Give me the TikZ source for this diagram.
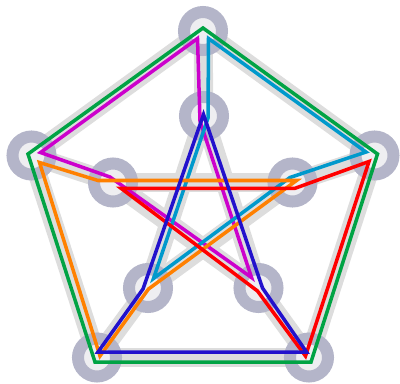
\documentclass[tikz,border=0pt]{standalone}
\usepackage{xcolor}
\usepackage{tikz}

\definecolor{ringblue}{RGB}{180,181,201}
\definecolor{ringfill}{RGB}{238,238,241}
\definecolor{edgegray}{RGB}{221,221,221}
\definecolor{cycgreen}{RGB}{0,163,68}
\definecolor{cycmagenta}{RGB}{204,0,204}
\definecolor{cyccyan}{RGB}{0,153,204}
\definecolor{cycred}{RGB}{255,0,0}
\definecolor{cycorange}{RGB}{255,128,0}
\definecolor{cycblue}{RGB}{34,17,204}

\begin{document}
\begin{tikzpicture}[x=0.025cm, y=-0.025cm]
  \tikzstyle{vertex} = [circle, draw=ringblue, fill=ringfill, line width=0.3cm, minimum size=0.95cm, inner sep=0pt]
  \tikzstyle{graylink} = [draw=edgegray, line width=0.475cm]
  \tikzstyle{cover} = [line width=2.5pt, line join=miter]

  \useasboundingbox (0,0) rectangle (400,383);

  % vertex positions
  \coordinate (O0) at (203,31);
  \coordinate (O1) at (374.5,155.5);
  \coordinate (O2) at (309,357.5);
  \coordinate (O3) at (97,357.5);
  \coordinate (O4) at (31.5,155.5);
  \coordinate (I0) at (204,116);
  \coordinate (I1) at (292.5,182.5);
  \coordinate (I2) at (258.5,288);
  \coordinate (I3) at (148,288);
  \coordinate (I4) at (113,182.5);

  % graph edges
  \draw[graylink] (O0) -- (O1);
  \draw[graylink] (O1) -- (O2);
  \draw[graylink] (O2) -- (O3);
  \draw[graylink] (O3) -- (O4);
  \draw[graylink] (O4) -- (O0);
  \draw[graylink] (I0) -- (I2);
  \draw[graylink] (I2) -- (I4);
  \draw[graylink] (I4) -- (I1);
  \draw[graylink] (I1) -- (I3);
  \draw[graylink] (I3) -- (I0);
  \foreach \k in {0,...,4}
    \draw[graylink] (O\k) -- (I\k);

  \foreach \k in {0,...,4} {
    \node[vertex] (vo\k) at (O\k) {};
    \node[vertex] (vi\k) at (I\k) {};
  }

  % the six cycles
  \coordinate (gr0) at (203,28);
  \coordinate (gr1) at (377.5,154);
  \coordinate (gr2) at (311,362);
  \coordinate (gr3) at (95,362);
  \coordinate (gr4) at (28,154);
  \draw[cover, cycgreen] (gr0) -- (gr1) -- (gr2) -- (gr3) -- (gr4) -- cycle;

  \coordinate (mg0) at (197.5,38.5);
  \coordinate (mg1) at (200,121);
  \coordinate (mg2) at (251.5,277.5);
  \coordinate (mg3) at (110,177);
  \coordinate (mg4) at (40.5,152.5);
  \draw[cover, cycmagenta] (mg0) -- (mg1) -- (mg2) -- (mg3) -- (mg4) -- cycle;

  \coordinate (cy0) at (208.5,38.5);
  \coordinate (cy1) at (366,152);
  \coordinate (cy2) at (290,177.5);
  \coordinate (cy3) at (153.5,278.5);
  \coordinate (cy4) at (208,118);
  \draw[cover, cyccyan] (cy0) -- (cy1) -- (cy2) -- (cy3) -- (cy4) -- cycle;

  \coordinate (or0) at (100,356);
  \coordinate (or1) at (39.5,162.5);
  \coordinate (or2) at (98,180.5);
  \coordinate (or3) at (296.5,180.5);
  \coordinate (or4) at (148.5,289);
  \draw[cover, cycorange] (or0) -- (or1) -- (or2) -- (or3) -- (or4) -- cycle;

  \coordinate (rd0) at (369,161.5);
  \coordinate (rd1) at (305.5,356);
  \coordinate (rd2) at (257.5,291);
  \coordinate (rd3) at (121,188.3);
  \coordinate (rd4) at (295,188.3);
  \draw[cover, cycred] (rd0) -- (rd1) -- (rd2) -- (rd3) -- (rd4) -- cycle;

  \coordinate (bl0) at (306.5,352);
  \coordinate (bl1) at (98,352);
  \coordinate (bl2) at (143,289);
  \coordinate (bl3) at (203.5,114.5);
  \coordinate (bl4) at (262.5,288);
  \draw[cover, cycblue] (bl0) -- (bl1) -- (bl2) -- (bl3) -- (bl4) -- cycle;
\end{tikzpicture}
\end{document}
